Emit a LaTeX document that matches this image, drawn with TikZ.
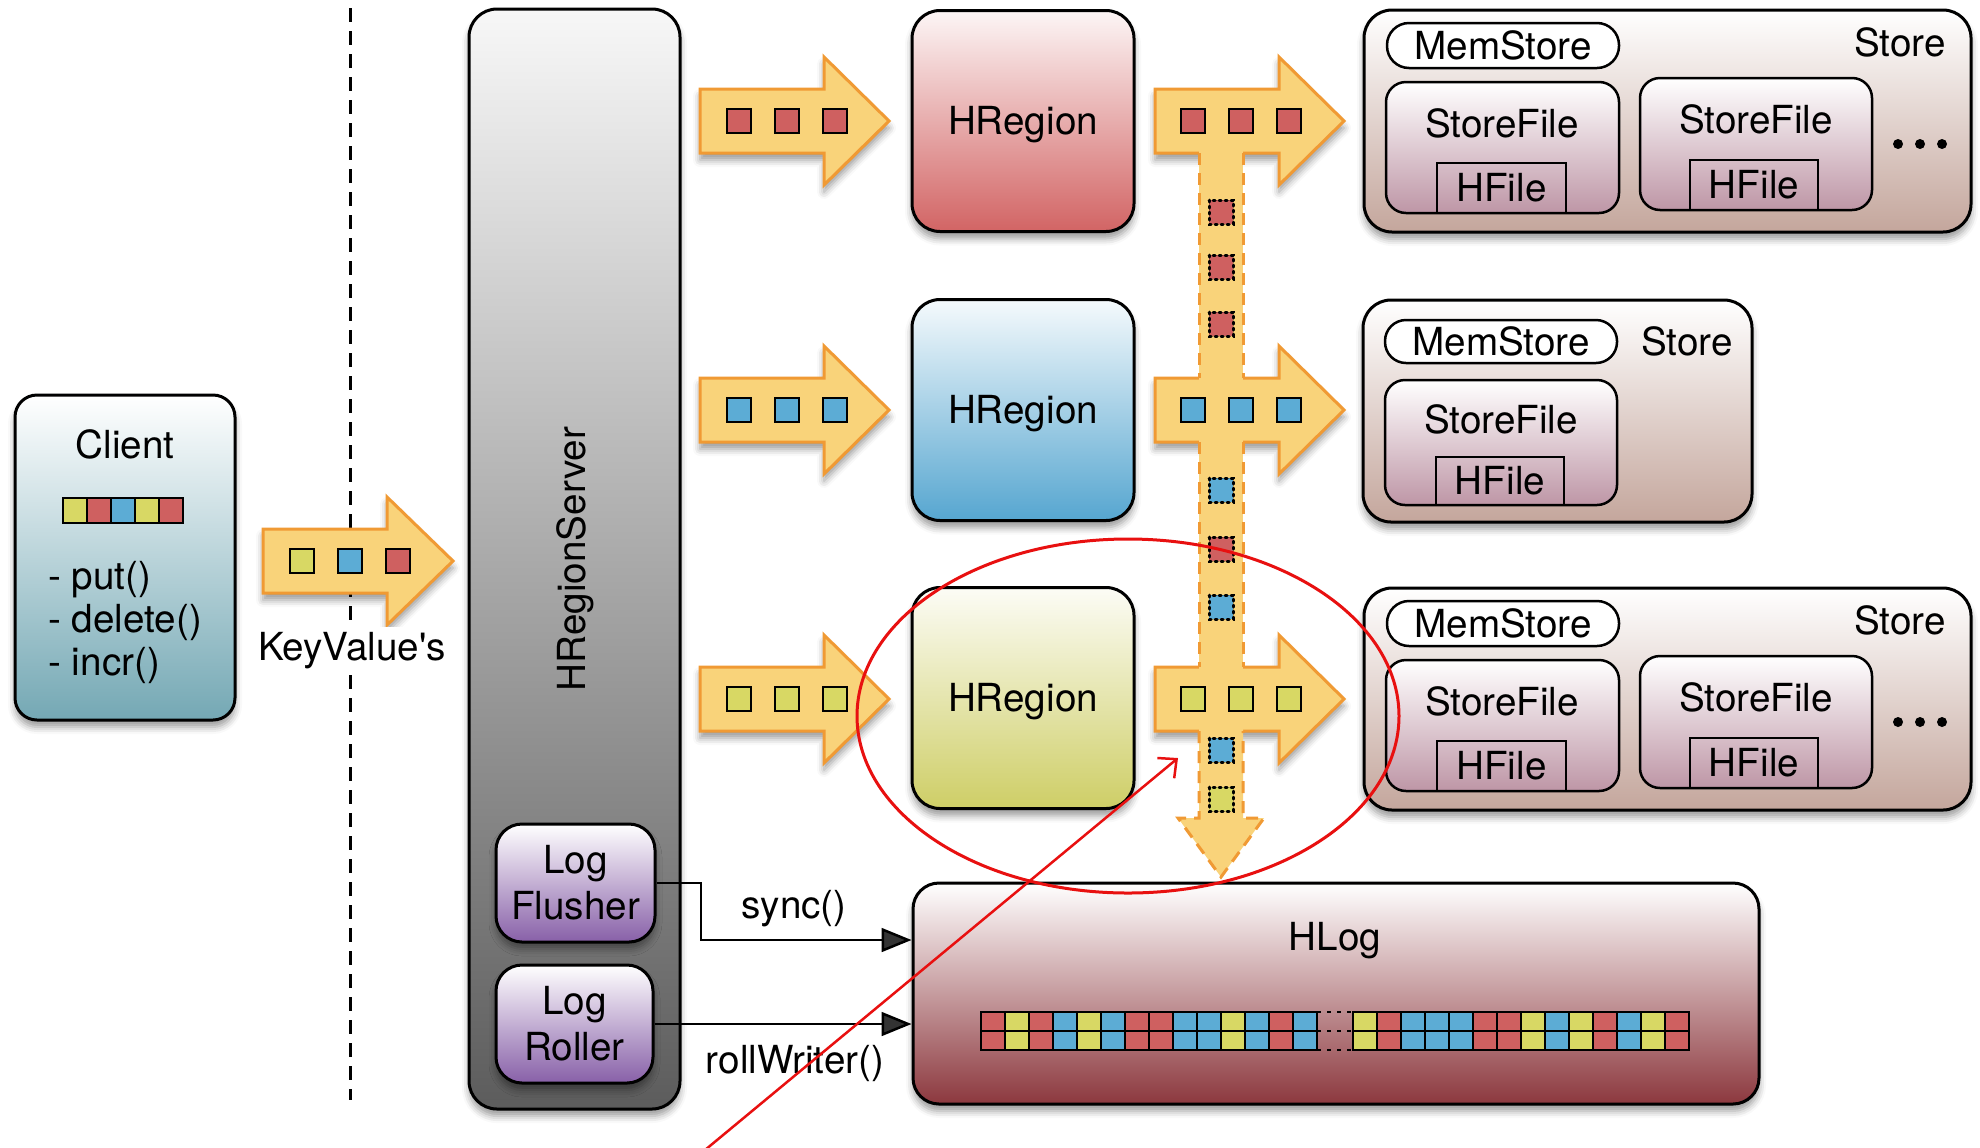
\documentclass[tikz,border=0pt]{standalone}
\usepackage{fontspec}
\setmainfont{TeX Gyre Heros}
\usetikzlibrary{arrows.meta,shadows.blur,shapes.geometric}
\newlength\px
\setlength\px{0.02cm}
\definecolor{kvfill}{RGB}{249,211,122}
\definecolor{kvline}{RGB}{240,154,52}
\definecolor{cellred}{RGB}{207,96,96}
\definecolor{cellblue}{RGB}{92,172,213}
\definecolor{cellyellow}{RGB}{216,216,100}
\definecolor{clientbot}{RGB}{116,168,180}
\definecolor{serverbot}{RGB}{92,92,92}
\definecolor{logbot}{RGB}{136,96,168}
\definecolor{redbot}{RGB}{210,100,100}
\definecolor{bluebot}{RGB}{86,166,208}
\definecolor{yellowbot}{RGB}{206,206,102}
\definecolor{storebot}{RGB}{196,166,156}
\definecolor{filebot}{RGB}{190,150,166}
\definecolor{hlogbot}{RGB}{140,56,62}
\definecolor{notered}{RGB}{232,16,16}
\tikzset{
  every node/.style={font=\fontsize{22}{26}\selectfont, inner sep=0pt},
  softshadow/.style={blur shadow={shadow xshift=0pt, shadow yshift=-7\px, shadow blur radius=7\px, shadow opacity=40}},
  panel/.style={draw, line width=3\px, rounded corners=26\px, softshadow},
  capbox/.style={text height=15.8pt, text depth=0pt},
  filebox/.style={draw, line width=2.5\px, rounded corners=20\px, top color=white, bottom color=filebot},
  hfilebox/.style={draw, line width=2.5\px, capbox},
  kvarrow/.style={fill=kvfill, draw=kvline, line width=3\px, softshadow},
  stemside/.style={draw=kvline, line width=3\px, dash pattern=on 12\px off 8\px},
  kv/.style={draw, line width=2.5\px},
  kvghost/.style={draw, line width=3\px, dash pattern=on 2\px off 4\px, line cap=round},
  callline/.style={line width=2.5\px, -{Triangle[length=17pt, width=13.5pt]}},
  note/.style={draw=notered, line width=3\px}
}
\begin{document}
\begin{tikzpicture}[x=0.02cm,y=-0.02cm]
\useasboundingbox (0,0) rectangle (1980,1147);

\node[panel, rounded corners=22\px, top color=white, bottom color=clientbot, minimum width=220\px, minimum height=325\px] (client) at (125,557.5) {};
\node[anchor=base] (clientname) at (125,458) {Client};
\foreach \c [count=\i from 0] in {cellyellow,cellred,cellblue,cellyellow,cellred}
  \draw[kv, fill=\c] (63+24*\i,498) rectangle ++(24,25);
\node[anchor=base west] (put) at (48,589) {- put()};
\node[anchor=base west] (delete) at (48,632) {- delete()};
\node[anchor=base west] (incr) at (48,675) {- incr()};

\draw[line width=3\px, dash pattern=on 14\px off 9\px] (350,8) -- (350,1100);
\draw[kvarrow] (263,529) -- (387,529) -- (387,497) -- (453,561) -- (387,625) -- (387,593) -- (263,593) -- cycle;
\foreach \x/\c in {302/cellyellow,350/cellblue,398/cellred}
  \draw[kv, fill=\c] (\x-12,549) rectangle ++(24,24);
\node[anchor=base, fill=white, inner sep=3pt] (keyvalues) at (352,660) {KeyValue\textquotesingle s};

\node[panel, rounded corners=28\px, top color=white!97!black, bottom color=serverbot, minimum width=211\px, minimum height=1100\px] (server) at (574.5,559) {};
\node[rotate=90, anchor=base] (servername) at (585,559) {HRegionServer};
\node[panel, top color=white, bottom color=logbot, minimum width=159\px, minimum height=118\px, align=center] (flusher) at (575.5,883) {Log\\Flusher};
\node[panel, top color=white, bottom color=logbot, minimum width=157\px, minimum height=118\px, align=center] (roller) at (574.5,1024) {Log\\Roller};

\foreach \y/\c/\n in {121/redbot/1,410/bluebot/2,698/yellowbot/3}
  \node[panel, capbox, rounded corners=28\px, top color=\c!6!white, bottom color=\c, minimum width=222\px, minimum height=221\px] (region\n) at (1023,\y) {HRegion};

\foreach \y/\c in {121/cellred,410/cellblue,699/cellyellow} {
  \draw[kvarrow] (700,\y-32) -- (824,\y-32) -- (824,\y-64) -- (889,\y) -- (824,\y+64) -- (824,\y+32) -- (700,\y+32) -- cycle;
  \draw[kvarrow] (1155,\y-32) -- (1279,\y-32) -- (1279,\y-64) -- (1344,\y) -- (1279,\y+64) -- (1279,\y+32) -- (1155,\y+32) -- cycle;
}
\foreach \a/\b in {153/378,442/667} {
  \fill[kvfill] (1199,\a-3) rectangle (1243,\b+3);
  \draw[stemside] (1199,\a) -- (1199,\b) (1243,\a) -- (1243,\b);
}
\fill[kvfill] (1199,728) -- (1199,818) -- (1178,818) -- (1221,877) -- (1264,818) -- (1243,818) -- (1243,728) -- cycle;
\draw[stemside] (1199,731) -- (1199,818) -- (1178,818) -- (1221,877) -- (1264,818) -- (1243,818) -- (1243,731);
\foreach \y/\c in {121/cellred,410/cellblue,699/cellyellow}
  \foreach \x in {739,787,835,1193,1241,1289}
    \draw[kv, fill=\c] (\x-12,\y-12) rectangle ++(24,24);
\foreach \y/\c in {212/cellred,267/cellred,324/cellred,490/cellblue,549/cellred,607/cellblue,750/cellblue,799/cellyellow}
  \draw[kvghost, fill=\c] (1209,\y-12) rectangle ++(24,24);

\foreach \dy/\n in {0/1,578/3} {
  \node[panel, rounded corners=28\px, top color=white, bottom color=storebot, minimum width=607\px, minimum height=222\px] (store\n) at (1667.5,121+\dy) {};
  \node[draw, line width=2.5\px, fill=white, rounded corners=22\px, minimum width=232\px, minimum height=45\px, capbox] (memstore\n) at (1503,45.5+\dy) {MemStore};
  \node[anchor=base] (storename\n) at (1900,56+\dy) {Store};
  \node[filebox, minimum width=233\px, minimum height=131\px] (sfa\n) at (1502.5,147.5+\dy) {};
  \node[anchor=base] (sfatext\n) at (1502,137+\dy) {StoreFile};
  \node[hfilebox, minimum width=129\px, minimum height=50\px] (hfa\n) at (1501.5,188+\dy) {HFile};
  \node[filebox, minimum width=232\px, minimum height=132\px] (sfb\n) at (1756,144+\dy) {};
  \node[anchor=base] (sfbtext\n) at (1756,133+\dy) {StoreFile};
  \node[hfilebox, minimum width=128\px, minimum height=50\px] (hfb\n) at (1754,185+\dy) {HFile};
  \foreach \x in {1898,1920,1942}
    \fill (\x,144+\dy) circle (5\px);
}
\node[panel, rounded corners=28\px, top color=white, bottom color=storebot, minimum width=389\px, minimum height=222\px] (store2) at (1557.5,411) {};
\node[draw, line width=2.5\px, fill=white, rounded corners=21\px, minimum width=232\px, minimum height=43\px, capbox] (memstore2) at (1501,341.5) {MemStore};
\node[anchor=base] (storename2) at (1687,355) {Store};
\node[filebox, minimum width=232\px, minimum height=125\px] (sfa2) at (1501,442.5) {};
\node[anchor=base] (sfatext2) at (1501,433) {StoreFile};
\node[hfilebox, minimum width=128\px, minimum height=48\px] (hfa2) at (1500,481) {HFile};

\node[panel, top color=white, bottom color=hlogbot, minimum width=846\px, minimum height=221\px] (hlog) at (1336,993.5) {};
\node[anchor=base] (hlogname) at (1335,950) {HLog};
\foreach \c [count=\i from 0] in {cellred,cellyellow,cellred,cellblue,cellyellow,cellblue,cellred,cellred,cellblue,cellblue,cellyellow,cellblue,cellred,cellblue} {
  \draw[kv, fill=\c] (981+24*\i,1012) rectangle ++(24,19);
  \draw[kv, fill=\c] (981+24*\i,1031) rectangle ++(24,19);
}
\foreach \c [count=\i from 0] in {cellyellow,cellred,cellblue,cellblue,cellblue,cellred,cellred,cellyellow,cellblue,cellyellow,cellred,cellblue,cellyellow,cellred} {
  \draw[kv, fill=\c] (1353+24*\i,1012) rectangle ++(24,19);
  \draw[kv, fill=\c] (1353+24*\i,1031) rectangle ++(24,19);
}
\draw[line width=2.5\px, dash pattern=on 4\px off 6\px] (1317,1012) -- (1353,1012) (1317,1031) -- (1353,1031) (1317,1050) -- (1353,1050);

\coordinate (synccorner) at (701,940);
\draw[callline] (flusher.east) -| (synccorner) -- (synccorner -| hlog.west);
\node[anchor=base] (synclabel) at (794,918) {sync()};
\draw[callline] (roller.east) -- (roller.east -| hlog.west);
\node[anchor=base] (rolllabel) at (795,1073) {rollWriter()};

\node[note, ellipse, minimum width=542\px, minimum height=354\px] (focus) at (1128,716) {};
\coordinate (notefrom) at (705,1150);
\coordinate (noteto) at (1178,758);
\draw[note, line width=2.5\px, -{Straight Barb[length=8pt, width=15pt]}] (notefrom) -- (noteto);
\end{tikzpicture}
\end{document}
